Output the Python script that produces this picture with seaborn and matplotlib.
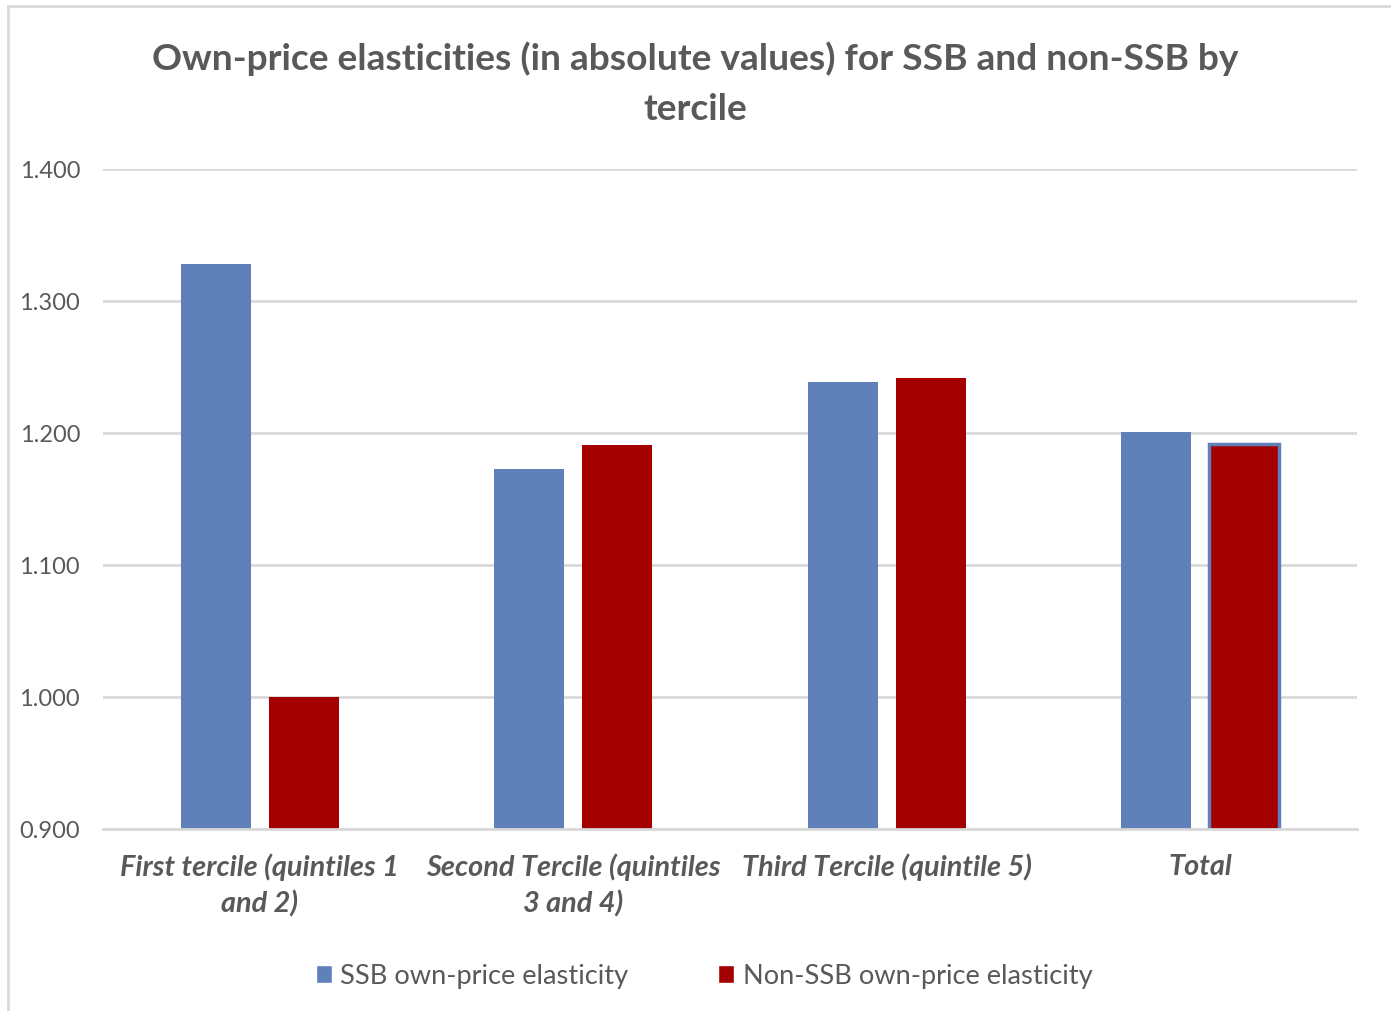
import matplotlib
matplotlib.use("Agg")
import matplotlib.pyplot as plt
import seaborn as sns
import pandas as pd
from matplotlib.patches import Rectangle, Patch

# Elasticity values by income tercile
categories = [
    "First tercile (quintiles 1\nand 2)",
    "Second Tercile (quintiles\n3 and 4)",
    "Third Tercile (quintile 5)",
    "Total",
]
series_names = ["SSB own-price elasticity", "Non-SSB own-price elasticity"]
ssb_values = [1.328, 1.173, 1.239, 1.201]
non_ssb_values = [1.000, 1.191, 1.242, 1.192]
y_ticks = [0.9, 1.0, 1.1, 1.2, 1.3, 1.4]

blue = "#6080BA"
red = "#A50000"
text_gray = "#595959"
grid_gray = "#D9D9D9"

df = pd.DataFrame({
    "category": categories * 2,
    "series": [series_names[0]] * 4 + [series_names[1]] * 4,
    "value": ssb_values + non_ssb_values,
})

sns.set_theme(style="white")
plt.rcParams["font.family"] = ["Lato", "DejaVu Sans"]

fig = plt.figure(figsize=(13.91, 10.12), dpi=100)
ax = fig.add_axes([103 / 1391, 1 - 830 / 1012, 1254 / 1391, 660 / 1012])

sns.barplot(
    data=df, x="category", y="value", hue="series",
    palette=[blue, red], width=0.56, gap=0.2, ax=ax,
    legend=False, saturation=1.0, linewidth=0,
)

# The "Total" non-SSB bar carries a blue outline
for patch in ax.patches:
    x_center = patch.get_x() + patch.get_width() / 2
    if x_center > 3.0 and patch.get_facecolor()[0] > 0.5:
        patch.set_edgecolor(blue)
        patch.set_linewidth(2.5)

ax.set_ylim(0.9, 1.4)
ax.set_xlim(-0.5, 3.5)
ax.set_yticks(y_ticks)
ax.set_yticklabels([f"{v:.3f}" for v in y_ticks], fontsize=17, color=text_gray)
ax.yaxis.grid(True, color=grid_gray, linewidth=2)
ax.set_axisbelow(True)
for side in ["left", "right", "top"]:
    ax.spines[side].set_visible(False)
ax.spines["bottom"].set_color(grid_gray)
ax.spines["bottom"].set_linewidth(2)
ax.tick_params(axis="y", length=0, pad=16.5)
ax.tick_params(axis="x", length=0, pad=17)
ax.set_xticks(range(len(categories)))
ax.set_xticklabels(categories, fontsize=20.8, fontweight="bold", fontstyle="italic",
                   color=text_gray, linespacing=1.4)
ax.set_xlabel("")
ax.set_ylabel("")

fig.text(0.5, 1 - 84 / 1012,
         "Own-price elasticities (in absolute values) for SSB and non-SSB by\ntercile",
         ha="center", va="center", fontsize=26.7, fontweight="bold",
         color=text_gray, linespacing=1.62)

handles = [Patch(facecolor=blue), Patch(facecolor=red)]
fig.legend(handles, series_names, loc="center", bbox_to_anchor=(0.506, 1 - 977 / 1012),
           ncol=2, frameon=False, fontsize=19.6, labelcolor=text_gray,
           handlelength=0.6, handleheight=0.6, handletextpad=0.3, columnspacing=3.3)

# Chart frame
fig.patches.append(Rectangle((8 / 1391, -0.05), 1.2, 1 - 7 / 1012 + 0.05,
                             transform=fig.transFigure, fill=False,
                             edgecolor=grid_gray, linewidth=2))

fig.savefig("out.png", dpi=100)
